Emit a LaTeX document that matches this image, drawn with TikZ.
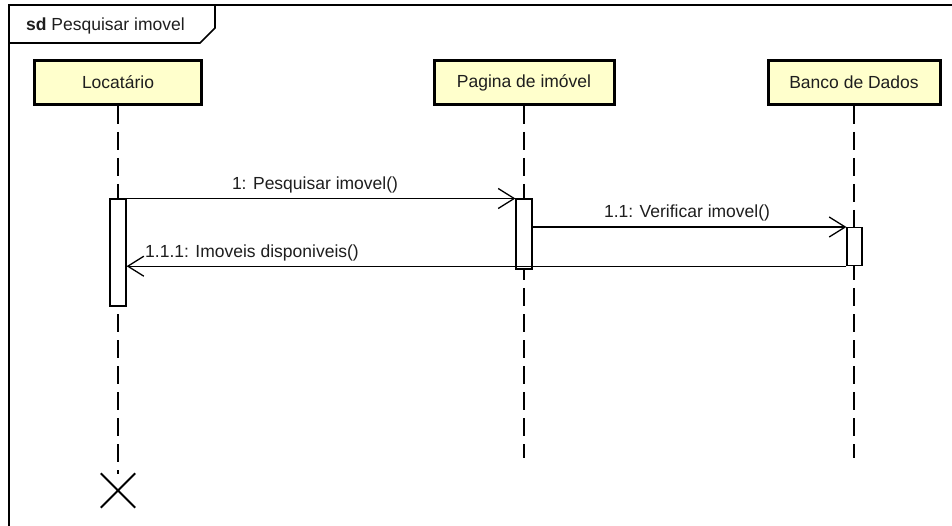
\documentclass[tikz,border=0pt]{standalone}
\usepackage{fontspec}
\setmainfont{Liberation Sans}
\usetikzlibrary{arrows.meta}
\definecolor{headfill}{RGB}{255,255,204}
\definecolor{ink}{RGB}{30,30,30}
\begin{document}
\begin{tikzpicture}[x=1pt,y=-1pt,
  txt/.style={font=\fontsize{17.5}{20}\selectfont,text=ink,inner sep=0pt},
  head/.style={draw=black,line width=3pt,fill=headfill,minimum height=44pt,inner sep=0pt,txt},
  lifeline/.style={draw=black,line width=1.3pt,dash pattern=on 18pt off 8pt},
  act/.style={draw=black,line width=1.2pt,fill=white,minimum width=16pt,inner sep=0pt},
  msg/.style={draw=black,line width=1.3pt,-{Straight Barb[length=16pt,width=20pt,line width=1.3pt]}},
  frameline/.style={draw=black,line width=1.6pt}
]
\useasboundingbox (0,0) rectangle (952,526);
\fill[white] (0,0) rectangle (952,526);
% frame
\draw[frameline] (9,526) -- (9,5) -- (952,5);
\draw[frameline] (9,43) -- (200,43) -- (215,28) -- (215,5);
\node[txt,anchor=west] (title) at (26,26) {\textbf{sd} Pesquisar imovel};
% heads
\node[head,minimum width=167pt] (L) at (118,82.5) {Locatário};
\node[head,minimum width=180pt] (P) at (524,82.5) {Pagina de imóvel};
\node[head,minimum width=172pt] (B) at (854,82.5) {Banco de Dados};
% lifeline ends
\coordinate (Lend) at (118,474);
\coordinate (Pend) at (524,458);
\coordinate (Bend) at (854,458);
\draw[lifeline] (L.south) -- (Lend);
\draw[lifeline] (P.south) -- (Pend);
\draw[lifeline] (B.south) -- (Bend);
% activations
\node[act,minimum height=107pt,anchor=north] (aL) at (118,198.5) {};
\node[act,minimum height=70pt,anchor=north] (aP) at (524,198.5) {};
\node[act,minimum width=15pt,minimum height=38pt,anchor=north] (aB) at (854.5,227) {};
% messages
\draw[msg] (aL.north east) -- (aP.north west);
\node[txt] (m1) at (315,184.5) {1: Pesquisar imovel()};
\draw[msg] (aB.north west -| aP.east) -- (aB.north west);
\node[txt] (m2) at (687,212.5) {1.1: Verificar imovel()};
\draw[msg] (aB.south west) -- (aB.south west -| aL.east);
\node[txt,anchor=west] (m3) at (145,253) {1.1.1: Imoveis disponiveis()};
% destruction
\node[minimum size=34pt,inner sep=0pt] (X) at (118,490.5) {};
\draw[black,line width=2pt] (X.north west) -- (X.south east) (X.north east) -- (X.south west);
\end{tikzpicture}
\end{document}
